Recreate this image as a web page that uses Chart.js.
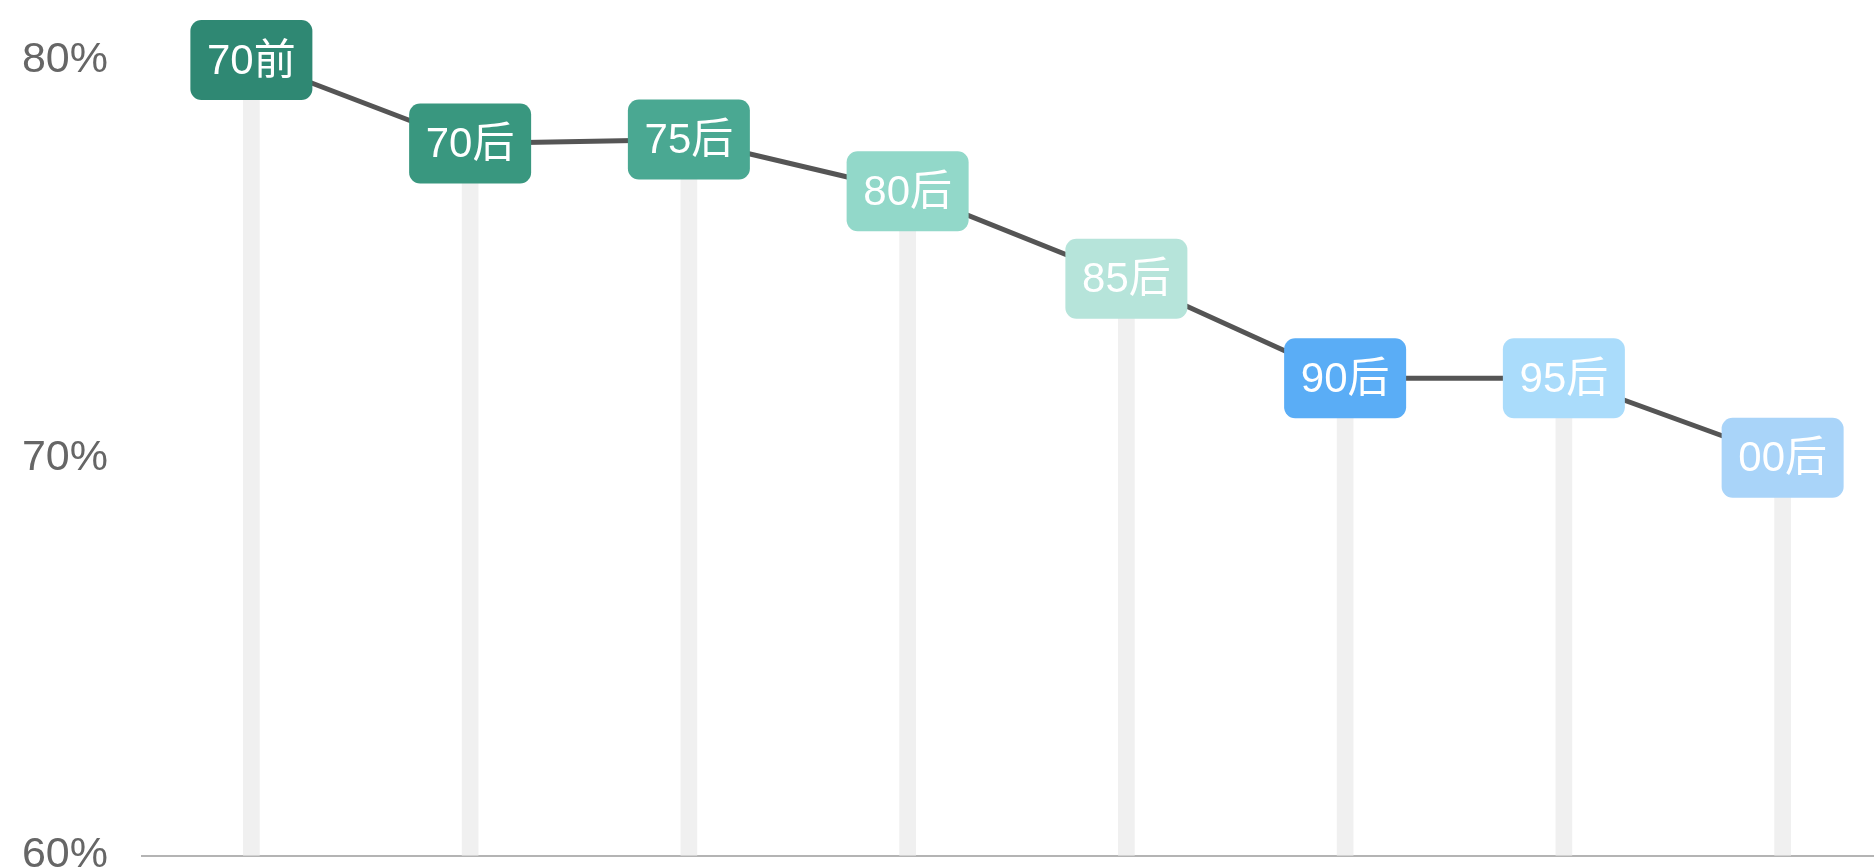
<!DOCTYPE html>
<html>
<head>
<meta charset="utf-8">
<script src="https://cdn.jsdelivr.net/npm/chart.js@4"></script>
<style>
  html, body { margin: 0; padding: 0; background: #fff; overflow: hidden; }
  #wrap { width: 1892px; height: 903px; }
</style>
</head>
<body>
<div id="wrap"><canvas id="chart"></canvas></div>
<script>
const ctx = document.getElementById('chart');

// datos
const generaciones = ['70前', '70后', '75后', '80后', '85后', '90后', '95后', '00后'];
const porcentajes = [80.0, 77.9, 78.0, 76.7, 74.5, 72.0, 72.0, 70.0];
const coloresCaja = ['#2f8873', '#39977f', '#4aa892', '#92d8c9', '#b6e4da', '#5aadf6', '#aadcfb', '#a9d4f9'];
const ticksY = [60, 70, 80];

const fuente = '"Liberation Sans", "Noto Sans CJK SC", sans-serif';

// dibuja las etiquetas redondeadas encima de cada punto
const cajasPlugin = {
    id: 'cajas',
    afterDatasetsDraw(chart) {
        const meta = chart.getDatasetMeta(1);
        const c = chart.ctx;
        c.save();
        c.font = '42px ' + fuente;
        c.textAlign = 'center';
        c.textBaseline = 'middle';
        meta.data.forEach((pt, i) => {
            const w = 122, h = 80;
            c.fillStyle = coloresCaja[i];
            c.beginPath();
            c.roundRect(pt.x - w / 2, pt.y - h / 2, w, h, 11);
            c.fill();
            c.fillStyle = '#ffffff';
            c.fillText(generaciones[i], pt.x, pt.y + 2);
        });
        c.restore();
    }
};

new Chart(ctx, {
    data: {
        labels: generaciones,
        datasets: [{
            type: 'bar',
            data: porcentajes,
            backgroundColor: '#f0f0f0',
            barThickness: 16,
            order: 2
        }, {
            type: 'line',
            data: porcentajes,
            borderColor: '#555555',
            borderWidth: 5,
            pointRadius: 0,
            tension: 0,
            clip: false,
            order: 1
        }]
    },
    options: {
        responsive: true,
        maintainAspectRatio: false,
        animation: false,
        layout: { padding: { top: 60, bottom: 0, right: 0 } },
        plugins: {
            legend: { display: false },
            tooltip: { enabled: false }
        },
        scales: {
            x: {
                grid: { display: false, drawTicks: false },
                border: { display: true, color: '#b4b4b4', width: 2 },
                ticks: { display: false },
                afterFit: (axis) => { axis.height = 0; }
            },
            y: {
                min: 60,
                max: 80,
                afterBuildTicks: (axis) => { axis.ticks = ticksY.map(v => ({ value: v })); },
                afterFit: (axis) => { axis.width = 142; },
                grid: { display: false },
                border: { display: false },
                ticks: {
                    padding: 26,
                    color: '#666666',
                    font: { size: 43, family: fuente, lineHeight: 1 },
                    callback: (v) => v + '%'
                }
            }
        }
    },
    plugins: [cajasPlugin]
});
</script>
</body>
</html>
